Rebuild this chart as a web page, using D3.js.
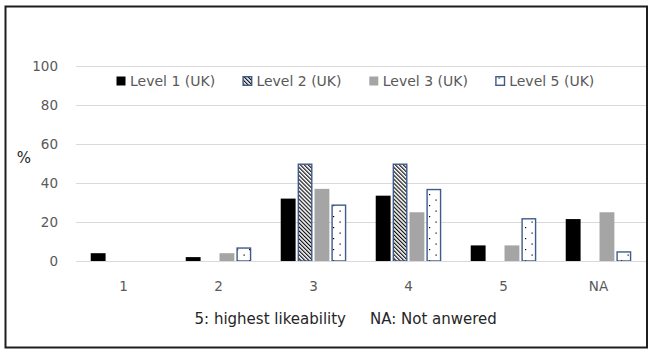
<!DOCTYPE html>
<html>
<head>
<meta charset="utf-8">
<script src="https://cdn.jsdelivr.net/npm/d3@7"></script>
<style>
  html, body { margin: 0; padding: 0; background: #fff; }
  svg { display: block; }
  text { font-family: "DejaVu Sans", sans-serif; }
</style>
</head>
<body>
<svg id="chart" width="649" height="352"></svg>
<script>
// Likeability ratings (%) by level
const categories = ["1", "2", "3", "4", "5", "NA"];
const seriesNames = ["Level 1 (UK)", "Level 2 (UK)", "Level 3 (UK)", "Level 5 (UK)"];
const level1 = [4, 2, 32, 33.5, 8, 21.5];
const level2 = [0, 0, 50, 50, 0, 0];
const level3 = [0, 4, 37, 25, 8, 25];
const level5 = [0, 7, 29, 37, 22, 5];
const yTicks = [0, 20, 40, 60, 80, 100];
const yLabel = "%";
const xTitleLeft = "5: highest likeability";
const xTitleRight = "NA: Not anwered";

const seriesValues = [level1, level2, level3, level5];

const svg = d3.select("#chart");
const W = 649, H = 352;
const plot = { left: 76, right: 646, top: 66, bottom: 261 };

// Outer frame
svg.append("rect")
  .attr("x", 5.5).attr("y", 6.5)
  .attr("width", 641.5).attr("height", 341)
  .attr("fill", "#fff")
  .attr("stroke", "#1e1e1e").attr("stroke-width", 2);

// Fill patterns
const defs = svg.append("defs");
const hatch = defs.append("pattern")
  .attr("id", "hatch")
  .attr("patternUnits", "userSpaceOnUse")
  .attr("width", 2.8).attr("height", 2.8)
  .attr("patternTransform", "rotate(-45)");
hatch.append("rect").attr("width", 2.8).attr("height", 2.8).attr("fill", "#fff");
hatch.append("line")
  .attr("x1", 0.6).attr("y1", 0).attr("x2", 0.6).attr("y2", 2.8)
  .attr("stroke", "#000").attr("stroke-width", 1.1);

const dots = defs.append("pattern")
  .attr("id", "dots")
  .attr("patternUnits", "userSpaceOnUse")
  .attr("width", 12).attr("height", 11);
dots.append("rect").attr("width", 12).attr("height", 11).attr("fill", "#fff");
dots.append("rect").attr("x", 3.5).attr("y", 1.5).attr("width", 1.2).attr("height", 1.2).attr("fill", "#000");
dots.append("rect").attr("x", 9).attr("y", 7).attr("width", 1.2).attr("height", 1.2).attr("fill", "#000");

const fills = ["#000000", "url(#hatch)", "#a5a5a5", "url(#dots)"];
const strokes = [null, "#3e5b8c", null, "#3e5b8c"];

// Scales
const x0 = d3.scaleBand()
  .domain(categories)
  .range([plot.left, plot.right])
  .paddingInner(0.31)
  .paddingOuter(0.155);

const x1 = d3.scaleBand()
  .domain(seriesNames)
  .range([0, x0.bandwidth()])
  .paddingInner(0.12);

const y = d3.scaleLinear()
  .domain([0, 100])
  .range([plot.bottom, plot.top]);

// Gridlines
const grid = svg.append("g")
  .attr("transform", `translate(${plot.left},0)`)
  .call(d3.axisLeft(y).tickValues(yTicks).tickSize(-(plot.right - plot.left)).tickFormat(""));
grid.select(".domain").remove();
grid.selectAll(".tick line").attr("stroke", "#d9d9d9").attr("stroke-width", 1);

// Y axis labels
const yAxis = svg.append("g")
  .attr("transform", `translate(${plot.left - 18},0)`)
  .call(d3.axisLeft(y).tickValues(yTicks).tickSize(0).tickPadding(0));
yAxis.select(".domain").remove();
yAxis.selectAll("text")
  .attr("fill", "#595959")
  .style("font-size", "13.5px")
  .style("font-family", "DejaVu Sans, sans-serif");

// Bars
const groups = svg.append("g")
  .selectAll("g")
  .data(seriesNames)
  .join("g");

groups.each(function (name, si) {
  const vals = seriesValues[si];
  const sw = strokes[si] ? 1.4 : 0;
  d3.select(this).selectAll("rect")
    .data(categories.map((c, i) => ({ c, v: vals[i] })).filter(d => d.v > 0))
    .join("rect")
    .attr("x", d => x0(d.c) + x1(name) + sw / 2)
    .attr("y", d => y(d.v) + sw / 2)
    .attr("width", x1.bandwidth() - sw)
    .attr("height", d => Math.max(0, y(0) - y(d.v) - sw / 2))
    .attr("fill", fills[si])
    .attr("stroke", strokes[si] || "none")
    .attr("stroke-width", sw);
});

// Baseline
svg.append("line")
  .attr("x1", plot.left).attr("x2", plot.right)
  .attr("y1", y(0) + 0.5).attr("y2", y(0) + 0.5)
  .attr("stroke", "#d9d9d9").attr("stroke-width", 1);

// X axis labels
const xAxis = svg.append("g")
  .attr("transform", `translate(0,${plot.bottom + 20})`)
  .call(d3.axisBottom(x0).tickSize(0).tickPadding(0));
xAxis.select(".domain").remove();
xAxis.selectAll("text")
  .attr("fill", "#595959")
  .style("font-size", "13.5px")
  .style("font-family", "DejaVu Sans, sans-serif");

// Y axis label
svg.append("text")
  .attr("x", 24).attr("y", 163)
  .attr("text-anchor", "middle")
  .attr("fill", "#262626")
  .style("font-size", "15px")
  .text(yLabel);

// X axis title
const titleY = 324;
svg.append("text")
  .attr("x", 346).attr("y", titleY)
  .attr("text-anchor", "end")
  .attr("fill", "#262626")
  .style("font-size", "15px")
  .text(xTitleLeft);
svg.append("text")
  .attr("x", 370).attr("y", titleY)
  .attr("text-anchor", "start")
  .attr("fill", "#262626")
  .style("font-size", "15px")
  .text(xTitleRight);

// Legend
const legend = svg.append("g").attr("transform", "translate(116,76)");
const item = legend.selectAll("g")
  .data(seriesNames)
  .join("g")
  .attr("transform", (d, i) => `translate(${i * 126.4},0)`);
item.append("rect")
  .attr("x", (d, i) => strokes[i] ? 0.7 : 0.5)
  .attr("y", (d, i) => strokes[i] ? 0.7 : 0.5)
  .attr("width", (d, i) => strokes[i] ? 8.6 : 9)
  .attr("height", (d, i) => strokes[i] ? 8.6 : 9)
  .attr("fill", (d, i) => fills[i])
  .attr("stroke", (d, i) => strokes[i] || "none")
  .attr("stroke-width", (d, i) => strokes[i] ? 1.4 : 0);
item.append("text")
  .attr("x", 14).attr("y", 9.5)
  .attr("fill", "#595959")
  .style("font-size", "14px")
  .text(d => d);
</script>
</body>
</html>
